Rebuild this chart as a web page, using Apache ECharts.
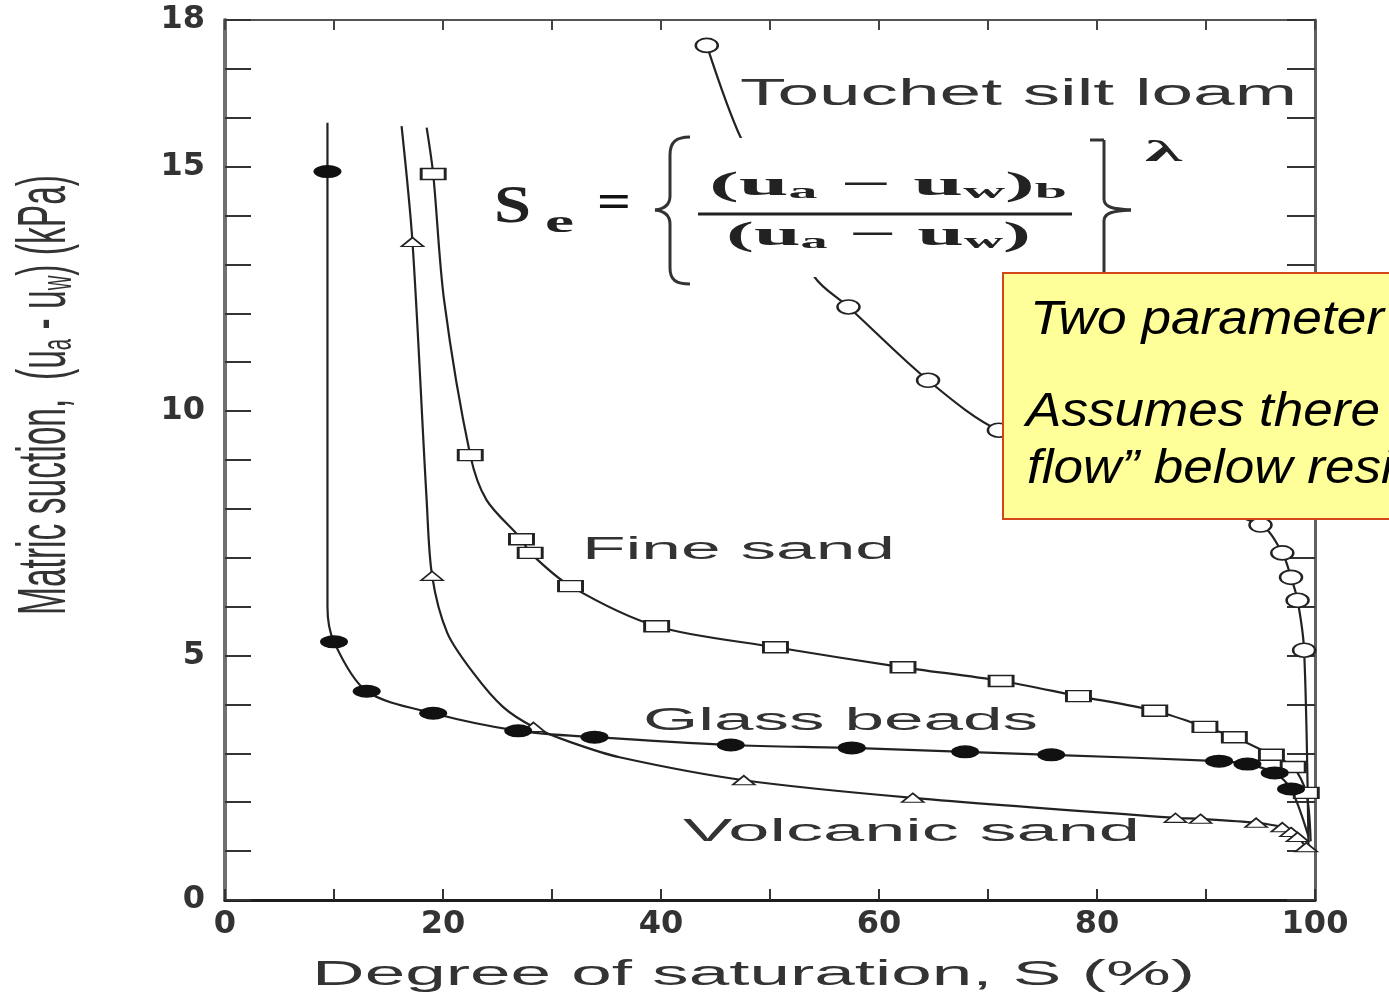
<!DOCTYPE html>
<html><head><meta charset="utf-8">
<script src="https://cdn.jsdelivr.net/npm/echarts@6/dist/echarts.min.js"></script>
<style>html,body{margin:0;padding:0;background:#fff;overflow:hidden}#c{width:1389px;height:992px}</style>
</head><body><div id="c"></div>
<script>
// ---- data: [degree of saturation S (%), matric suction (kPa)] ----
const xTickLabels = [0, 20, 40, 60, 80, 100];
const yTickLabels = [0, 5, 10, 15, 18];

const glassBeadsMarkers = [[9.4,14.9],[10.0,5.28],[13.0,4.27],[19.1,3.82],[26.9,3.46],[33.9,3.33],[46.4,3.17],[57.5,3.11],[67.9,3.03],[75.8,2.97],[91.2,2.84],[93.8,2.78],[96.3,2.60],[97.8,2.27]];
const glassBeadsCurve = [[9.4,15.9],[9.4,14.9],[9.4,6.0],[10.0,5.28],[13.0,4.27],[19.1,3.82],[26.9,3.46],[33.9,3.33],[46.4,3.17],[57.5,3.11],[67.9,3.03],[75.8,2.97],[91.2,2.84],[93.8,2.78],[96.3,2.60],[97.8,2.27],[99.4,1.3]];

const fineSandMarkers = [[19.1,14.85],[22.5,9.10],[27.2,7.38],[28.0,7.10],[31.7,6.42],[39.6,5.60],[50.5,5.17],[62.2,4.76],[71.2,4.48],[78.3,4.17],[85.3,3.87],[89.9,3.54],[92.6,3.33],[96.0,2.97],[98.0,2.72],[99.2,2.19]];
const fineSandCurve = [[18.5,15.8],[19.1,14.85],[20.1,12.27],[22.5,9.10],[24.0,8.18],[27.2,7.38],[28.0,7.10],[31.7,6.42],[39.6,5.60],[50.5,5.17],[62.2,4.76],[71.2,4.48],[78.3,4.17],[85.3,3.87],[89.9,3.54],[92.6,3.33],[96.0,2.97],[98.0,2.72],[99.2,2.19],[99.6,1.2]];

const volcanicSandMarkers = [[17.2,13.46],[19.0,6.63],[28.3,3.54],[47.6,2.45],[63.1,2.09],[87.2,1.68],[89.5,1.66],[94.6,1.58],[97.0,1.49],[97.8,1.39],[98.4,1.29],[99.2,1.08]];
const volcanicSandCurve = [[16.2,15.83],[17.2,13.46],[18.5,8.18],[19.0,6.63],[20.4,5.46],[22.8,4.64],[25.5,3.95],[28.3,3.54],[31.7,3.23],[36.2,2.92],[47.6,2.45],[63.1,2.09],[87.2,1.68],[89.5,1.66],[94.6,1.58],[97.0,1.49],[97.8,1.39],[98.4,1.29],[99.2,1.08]];

const touchetMarkers = [[44.2,17.48],[57.2,12.13],[64.5,10.63],[71.0,9.61],[95.0,7.67],[97.0,7.10],[97.8,6.60],[98.4,6.13],[99.0,5.11]];
const touchetCurve = [[44.2,17.48],[47.3,15.6],[54.1,12.74],[57.2,12.13],[64.5,10.63],[71.0,9.61],[95.0,7.67],[97.0,7.10],[97.8,6.60],[98.4,6.13],[99.0,5.11],[99.4,1.1]];

const curveLabels = ['Touchet silt loam', 'Fine sand', 'Glass beads', 'Volcanic sand'];
const xTitle = 'Degree of saturation, S (%)';
const noteLines = ['Two parameter model', 'Assumes there is no \u201c', 'flow\u201d below residual saturation'];

// ---- helpers ----
const mctx = document.createElement('canvas').getContext('2d');
function textWidth(t, size, family, weight, style) {
  mctx.font = (style || 'normal') + ' ' + (weight || 'normal') + ' ' + size + 'px ' + family;
  return mctx.measureText(t).width;
}
const SANS = '"Liberation Sans", Arial, sans-serif';
const SERIF = '"Liberation Serif", "DejaVu Serif", serif';
function stretched(text, left, cy, targetW, size, o) {
  o = o || {};
  const fam = o.family || SANS;
  const w = o.measureW || textWidth(o.measureText || text, size, fam, o.weight, o.style);
  return {
    type: 'text', x: left, y: cy, scaleX: targetW / w, scaleY: o.scaleY || 1,
    rotation: o.rotation || 0, z: o.z || 60, silent: true,
    style: {
      text: text, fontSize: size, fontFamily: fam, fontWeight: o.weight || 'normal',
      fontStyle: o.style || 'normal', fill: o.color || '#333',
      align: o.align || 'left', verticalAlign: 'middle', rich: o.rich
    }
  };
}
const braceStyle = { stroke: '#333', lineWidth: 3, fill: null };
function bez(x1, y1, cpx1, cpy1, cpx2, cpy2, x2, y2) {
  return { type: 'bezierCurve', shape: { x1, y1, cpx1, cpy1, cpx2, cpy2, x2, y2 }, style: braceStyle, z: 60, silent: true };
}
function seg(x1, y1, x2, y2) {
  return { type: 'line', shape: { x1, y1, x2, y2 }, style: braceStyle, z: 60, silent: true };
}

function curve(name, data) {
  return { name: name, type: 'line', data: data, smooth: 0.3, showSymbol: false, symbol: 'none',
    lineStyle: { color: '#222', width: 2.2 }, z: 3, silent: true };
}
function markers(name, data, symbol, size, fill, bw) {
  return { name: name, type: 'scatter', data: data, symbol: symbol, symbolSize: size,
    itemStyle: { color: fill, borderColor: '#222', borderWidth: bw, opacity: 1 }, z: 5, silent: true };
}

const chart = echarts.init(document.getElementById('c'), null, { renderer: 'canvas' });

// equation pieces
const eqF = 34, subF = 22;
const numW = textWidth('(u − u)', eqF, SERIF, 'bold') + textWidth('awb', subF, SERIF, 'bold');
const denW = textWidth('(u − u)', eqF, SERIF, 'bold') + textWidth('aw', subF, SERIF, 'bold');
const eqRich = {
  s: { fontSize: subF, fontFamily: SERIF, fontWeight: 'bold', fill: '#222', verticalAlign: 'bottom', lineHeight: 10 }
};
const yRich = { s: { fontSize: 20, fontFamily: SANS, fill: '#333', verticalAlign: 'bottom', lineHeight: 10 } };
const yTitleW = textWidth('Matric suction,  (u - u) (kPa)', 33, SANS) + textWidth('aw', 20, SANS);

// note box text: scaled so the visible words span the same width as in the figure
const noteF = 49;
const noteScale1 = 354 / textWidth('Two parameter', noteF, SANS, 'normal', 'italic');
const noteScale2 = 354 / textWidth('Assumes there', noteF, SANS, 'normal', 'italic');
function noteText(t, x, y, sc) {
  return { type: 'text', x: x, y: y, scaleX: sc, z: 81, silent: true,
    style: { text: t, fontSize: noteF, fontFamily: SANS, fontStyle: 'italic', fill: '#000', align: 'left', verticalAlign: 'middle' } };
}

const graphics = [
  // axis titles
  stretched(xTitle, 312, 975, 883, 35, { color: '#333' }),
  stretched('Matric suction,  (u{s|a} - u{s|w}) (kPa)', 46, 395, 440, 33,
    { measureW: yTitleW, rotation: Math.PI / 2, scaleY: 2.1, align: 'center', rich: yRich, color: '#333' }),
  // curve labels
  stretched(curveLabels[0], 740, 95, 557, 37),
  stretched(curveLabels[1], 582, 550, 313, 31),
  stretched(curveLabels[2], 643, 721, 395, 31),
  stretched(curveLabels[3], 683, 832, 457, 31),
  // equation background (hides the curve behind it)
  { type: 'rect', shape: { x: 650, y: 138, width: 495, height: 139 }, style: { fill: '#fff' }, z: 40, silent: true },
  stretched('S', 494, 209, 37, 52, { family: SERIF, weight: 'bold', color: '#222' }),
  stretched('e', 545, 224, 29, 32, { family: SERIF, weight: 'bold', color: '#222' }),
  stretched('=', 597, 205, 34, 48, { family: SERIF, weight: 'bold', color: '#111' }),
  stretched('(u{s|a} − u{s|w}){s|b}', 709, 186, 358, eqF, { family: SERIF, weight: 'bold', color: '#222', measureW: numW, rich: eqRich }),
  stretched('(u{s|a} − u{s|w})', 726, 236, 305, eqF, { family: SERIF, weight: 'bold', color: '#222', measureW: denW, rich: eqRich }),
  stretched('λ', 1145, 153, 37, 30, { family: SERIF, weight: 'bold', color: '#222' }),
  { type: 'line', shape: { x1: 698, y1: 214, x2: 1072, y2: 214 }, style: { stroke: '#222', lineWidth: 3 }, z: 60, silent: true },
  // left brace
  bez(690, 137, 676, 137, 670, 142, 670, 155),
  seg(670, 155, 670, 196),
  bez(670, 196, 670, 205, 664, 209, 655, 210),
  bez(655, 210, 664, 211, 670, 215, 670, 224),
  seg(670, 224, 670, 268),
  bez(670, 268, 670, 280, 676, 284, 690, 284),
  // right brace
  seg(1090, 140, 1104, 140),
  seg(1104, 140, 1104, 200),
  bez(1104, 200, 1105, 207, 1112, 209, 1131, 210),
  bez(1131, 210, 1112, 211, 1105, 213, 1104, 220),
  seg(1104, 220, 1104, 284),
  // yellow note box
  { type: 'rect', shape: { x: 1003, y: 273, width: 420, height: 246 }, style: { fill: '#FFFF99', stroke: '#D2461A', lineWidth: 2 }, z: 80, silent: true },
  noteText(noteLines[0], 1030, 320, noteScale1),
  noteText(noteLines[1], 1026, 412, noteScale2),
  noteText(noteLines[2], 1027, 469, noteScale2)
];

const tickLabelStyle = { fontFamily: '"DejaVu Sans", sans-serif', fontSize: 32, fontWeight: 'bold', color: '#333' };

chart.setOption({
  animation: false,
  backgroundColor: '#ffffff',
  grid: { left: 225, right: 74, top: 20, bottom: 92, containLabel: false },
  xAxis: [
    { type: 'value', min: 0, max: 100, interval: 10, position: 'bottom',
      axisLine: { show: true, onZero: false, lineStyle: { color: '#1e1e1e', width: 3 } },
      axisTick: { show: true, inside: true, length: 11, lineStyle: { color: '#333', width: 2 } },
      axisLabel: Object.assign({ margin: 9, formatter: v => xTickLabels.indexOf(v) >= 0 ? String(v) : '' }, tickLabelStyle),
      splitLine: { show: false } },
    { type: 'value', min: 0, max: 100, interval: 10, position: 'top',
      axisLine: { show: true, onZero: false, lineStyle: { color: '#555', width: 2 } },
      axisTick: { show: true, inside: true, length: 10, lineStyle: { color: '#444', width: 2 } },
      axisLabel: { show: false }, splitLine: { show: false } }
  ],
  yAxis: [
    { type: 'value', min: 0, max: 18, interval: 1, position: 'left',
      axisLine: { show: true, onZero: false, lineStyle: { color: '#707070', width: 4 } },
      axisTick: { show: true, inside: true, length: 26, lineStyle: { color: '#333', width: 2 } },
      axisLabel: Object.assign({ margin: 20, formatter: v => yTickLabels.indexOf(v) >= 0 ? String(v) : '' }, tickLabelStyle),
      splitLine: { show: false } },
    { type: 'value', min: 0, max: 18, interval: 1, position: 'right',
      axisLine: { show: true, onZero: false, lineStyle: { color: '#606060', width: 3 } },
      axisTick: { show: true, inside: true, length: 28, lineStyle: { color: '#333', width: 2 } },
      axisLabel: { show: false }, splitLine: { show: false } }
  ],
  series: [
    curve('Touchet silt loam curve', touchetCurve),
    curve('Fine sand curve', fineSandCurve),
    curve('Glass beads curve', glassBeadsCurve),
    curve('Volcanic sand curve', volcanicSandCurve),
    markers('Touchet silt loam', touchetMarkers, 'circle', [22, 14], '#fff', 2),
    markers('Fine sand', fineSandMarkers, 'rect', [24, 11], '#fff', 2),
    markers('Volcanic sand', volcanicSandMarkers, 'triangle', [22, 9], '#fff', 1.6),
    markers('Glass beads', glassBeadsMarkers, 'circle', [28, 13], '#111', 0)
  ],
  graphic: graphics
});
</script>
</body></html>
